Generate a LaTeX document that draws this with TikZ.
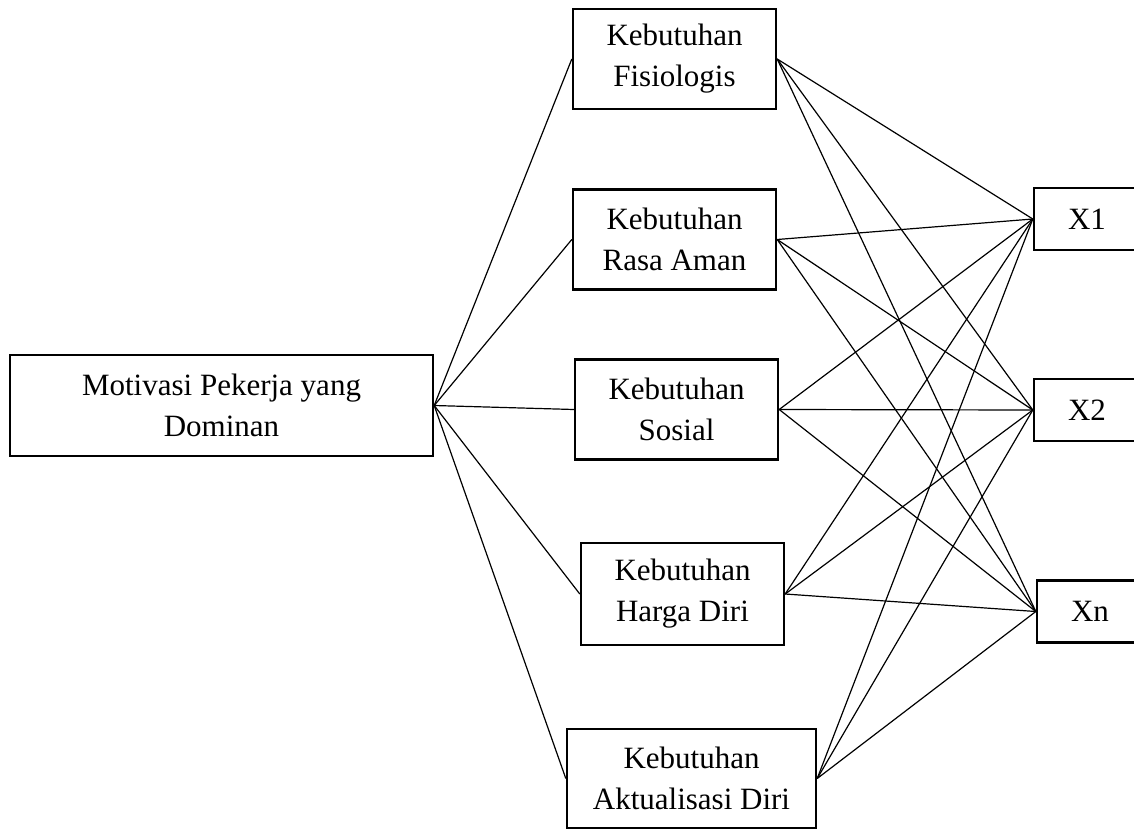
\documentclass[tikz,border=0pt]{standalone}
\usepackage{fontspec}
\setmainfont{Liberation Serif}
\tikzset{
  box/.style = {draw, line width=2.4pt, align=center, inner sep=0pt,
                font=\fontsize{31}{41}\selectfont},
  mid/.style = {box, minimum width=203pt, minimum height=100pt},
  res/.style = {box, minimum width=106pt, minimum height=62pt},
  link/.style = {line width=1.2pt}
}

\begin{document}
\begin{tikzpicture}[x=1pt, y=-1pt]
	\clip (0,0) rectangle (1134,830);

	% Main box
	\node[box, minimum width=423pt, minimum height=101pt] (motivasi) at (221.5,405.5) {Motivasi Pekerja yang\\Dominan};

	% Needs
	\node[mid] (fisiologis) at (674.5,59) {Kebutuhan\\Fisiologis};
	\node[mid] (aman) at (674.5,239.5) {Kebutuhan\\Rasa Aman};
	\node[mid] (sosial) at (676.5,409.5) {Kebutuhan\\Sosial};
	\node[mid, minimum height=102pt] (harga) at (682.5,594) {Kebutuhan\\Harga Diri};
	\node[mid, minimum width=249pt, minimum height=99pt] (aktualisasi) at (691.5,778.5) {Kebutuhan\\Aktualisasi Diri};

	% Variables
	\node[res] (x1) at (1087,219) {X1};
	\node[res] (x2) at (1087,410) {X2};
	\node[res] (xn) at (1090,611.5) {Xn};

	% Main box to needs
	\draw[link] (motivasi.east) -- (fisiologis.west);
	\draw[link] (motivasi.east) -- (aman.west);
	\draw[link] (motivasi.east) -- (sosial.west);
	\draw[link] (motivasi.east) -- (harga.west);
	\draw[link] (motivasi.east) -- (aktualisasi.west);

	% Needs to variables
	\draw[link] (fisiologis.east) -- (x1.west);
	\draw[link] (fisiologis.east) -- (x2.west);
	\draw[link] (fisiologis.east) -- (xn.west);
	\draw[link] (aman.east) -- (x1.west);
	\draw[link] (aman.east) -- (x2.west);
	\draw[link] (aman.east) -- (xn.west);
	\draw[link] (sosial.east) -- (x1.west);
	\draw[link] (sosial.east) -- (x2.west);
	\draw[link] (sosial.east) -- (xn.west);
	\draw[link] (harga.east) -- (x1.west);
	\draw[link] (harga.east) -- (x2.west);
	\draw[link] (harga.east) -- (xn.west);
	\draw[link] (aktualisasi.east) -- (x1.west);
	\draw[link] (aktualisasi.east) -- (x2.west);
	\draw[link] (aktualisasi.east) -- (xn.west);
\end{tikzpicture}
\end{document}
